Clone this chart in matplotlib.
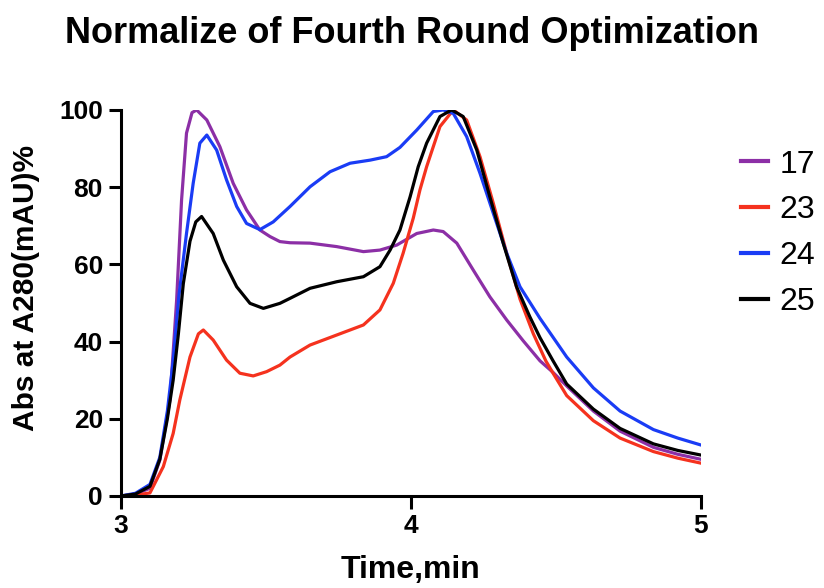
import matplotlib.pyplot as plt

# ======================
# DATA
# ======================
t17 = [3.0, 3.05, 3.1, 3.134, 3.169, 3.192, 3.209, 3.226, 3.245, 3.261, 3.296, 3.341, 3.387,
       3.433, 3.479, 3.514, 3.548, 3.583, 3.652, 3.744, 3.836, 3.893, 3.951, 4.02, 4.077,
       4.111, 4.158, 4.215, 4.272, 4.33, 4.387, 4.445, 4.49, 4.537, 4.629, 4.721, 4.836,
       4.92, 5.0]
v17 = [0, 0.5, 2, 9.3, 24.9, 50.8, 76.7, 94, 99.3, 100, 97.4, 90.5, 81,
       74.1, 68.9, 67.2, 65.9, 65.6, 65.5, 64.6, 63.3, 63.7, 65, 68, 68.9,
       68.5, 65.5, 58.5, 51.6, 45.6, 40.2, 35, 32, 28.5, 22, 16.8, 12.6,
       10.8, 9.5]

t23 = [3.0, 3.05, 3.1, 3.146, 3.18, 3.203, 3.238, 3.267, 3.284, 3.318, 3.364, 3.41, 3.456,
       3.502, 3.548, 3.583, 3.652, 3.744, 3.836, 3.893, 3.939, 3.973, 4.008, 4.031, 4.054,
       4.1, 4.146, 4.192, 4.238, 4.284, 4.33, 4.376, 4.422, 4.465, 4.49, 4.537, 4.629,
       4.721, 4.836, 4.92, 5.0]
v23 = [0, 0.2, 0.8, 7.6, 16.2, 24.9, 36, 42, 43, 40.4, 35.2, 31.8, 31.1,
       32.2, 33.9, 36, 39.1, 41.7, 44.3, 48.2, 55.1, 62.9, 72, 79.3, 85.3,
       95.7, 100, 97.4, 87.9, 75.8, 62.9, 51, 42, 35, 31.8, 26, 19.5,
       15, 11.5, 9.8, 8.5]

t24 = [3.0, 3.05, 3.1, 3.134, 3.16, 3.18, 3.2, 3.226, 3.249, 3.272, 3.296, 3.33, 3.364,
       3.399, 3.433, 3.479, 3.525, 3.583, 3.652, 3.721, 3.79, 3.859, 3.916, 3.962, 4.02,
       4.077, 4.111, 4.146, 4.192, 4.238, 4.284, 4.33, 4.376, 4.445, 4.537, 4.629, 4.721,
       4.836, 4.92, 5.0]
v24 = [0, 0.7, 3, 10, 22, 35, 52, 68, 81, 91.4, 93.5, 89.6, 81.9,
       75, 70.6, 69, 71, 75, 80.1, 84, 86.2, 87, 87.9, 90.3, 94.8,
       99.6, 100, 99.1, 93.1, 83.6, 73.2, 62.9, 54.2, 46, 36, 28, 22,
       17.2, 15, 13.2]

t25 = [3.0, 3.05, 3.1, 3.134, 3.16, 3.18, 3.198, 3.215, 3.238, 3.258, 3.278, 3.318, 3.353,
       3.399, 3.445, 3.491, 3.548, 3.583, 3.652, 3.744, 3.836, 3.893, 3.928, 3.962, 3.997,
       4.025, 4.054, 4.1, 4.14, 4.18, 4.227, 4.272, 4.318, 4.364, 4.41, 4.445, 4.49, 4.537,
       4.629, 4.721, 4.836, 4.92, 5.0]
v25 = [0, 0.5, 2.5, 9.5, 20, 30, 42, 55, 66, 71, 72.4, 68, 61.1,
       54.2, 49.9, 48.6, 49.9, 51.2, 53.8, 55.5, 56.8, 59.4, 63.7, 68.9, 77.5,
       85.3, 91.4, 98.3, 100, 98.3, 89.6, 77.5, 65.5, 54.2, 46.4, 41, 35, 29,
       22.5, 17.5, 13.5, 11.8, 10.6]

labels = ['17', '23', '24', '25']
colors = ['#8C2FA6', '#F5321E', '#1A3CF5', '#000000']

# ======================
# CHART
# ======================
plt.rcParams['font.family'] = ['Liberation Sans', 'DejaVu Sans']
fig = plt.figure(figsize=(8.24, 5.88), dpi=100)
ax = fig.add_axes([0.1468, 0.1565, 0.7039, 0.6565])

series = [(t17, v17), (t23, v23), (t24, v24), (t25, v25)]
for (t, v), lab, c in zip(series, labels, colors):
    ax.plot(t, v, color=c, lw=2.3, label=lab, solid_joinstyle='round')

ax.set_xlim(3, 5)
ax.set_ylim(0, 100)
ax.set_xticks([3, 4, 5])
ax.set_yticks([0, 20, 40, 60, 80, 100])
for s in ['top', 'right']:
    ax.spines[s].set_visible(False)
for s in ['left', 'bottom']:
    ax.spines[s].set_linewidth(2.2)
ax.tick_params(width=2.2, length=9, labelsize=19, pad=4)
for lbl in ax.get_xticklabels() + ax.get_yticklabels():
    lbl.set_fontweight('bold')

ax.set_xlabel('Time,min', fontsize=23, fontweight='bold', labelpad=12)
ax.set_ylabel('Abs at A280(mAU)%', fontsize=21.5, fontweight='bold')
ax.yaxis.set_label_coords(-0.14, 0.54)
fig.suptitle('Normalize of Fourth Round Optimization', fontsize=26, fontweight='bold', x=0.5, y=0.972)

leg = ax.legend(loc='upper left', bbox_to_anchor=(1.02, 0.972), frameon=False, fontsize=23,
                handlelength=0.85, handletextpad=0.35, labelspacing=0.5)
for h in leg.legend_handles:
    h.set_linewidth(3)

plt.savefig('out.png', dpi=100)
